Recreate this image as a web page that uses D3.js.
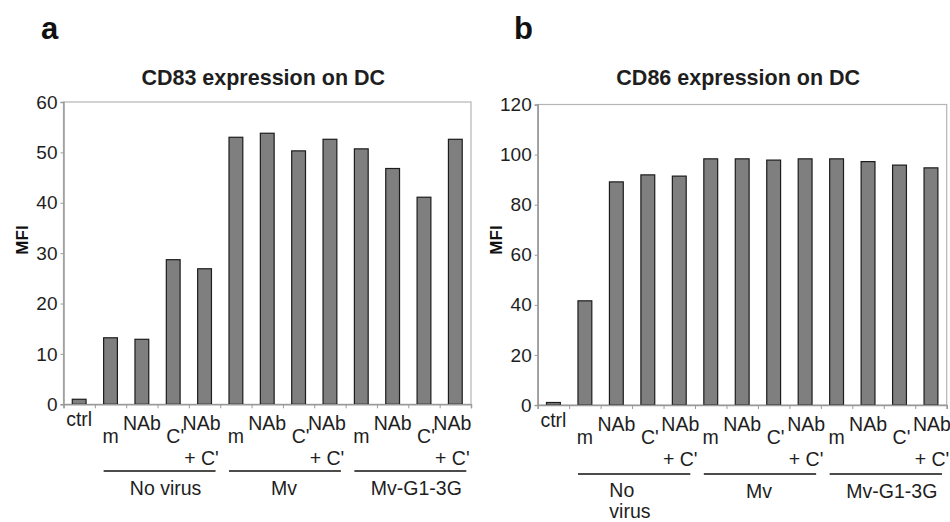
<!DOCTYPE html>
<html>
<head>
<meta charset="utf-8">
<script src="https://cdn.jsdelivr.net/npm/d3@7"></script>
<style>
  html, body { margin: 0; padding: 0; background: #fff; }
  svg { display: block; font-family: "Liberation Sans", Arial, sans-serif; }
</style>
</head>
<body>
<svg id="chart" width="950" height="522"></svg>
<script>
// ---- data ----
const categories = ["ctrl", "m", "NAb", "C'", "NAb|+ C'", "m", "NAb", "C'", "NAb|+ C'", "m", "NAb", "C'", "NAb|+ C'"];
const groupNames = ["No virus", "Mv", "Mv-G1-3G"];
const groupNamesB = ["No|virus", "Mv", "Mv-G1-3G"];
const groupStarts = [1, 5, 9];
const cd83Values = [1.0, 13.2, 12.9, 28.7, 26.9, 53.0, 53.8, 50.3, 52.6, 50.7, 46.8, 41.1, 52.6];
const cd86Values = [1.0, 41.6, 89.1, 91.9, 91.4, 98.3, 98.3, 97.8, 98.3, 98.3, 97.2, 95.8, 94.7];
const cd83Ticks = [0, 10, 20, 30, 40, 50, 60];
const cd86Ticks = [0, 20, 40, 60, 80, 100, 120];

const svg = d3.select("#chart");
const TXT = "#1e1e1e";
const AXIS = "#9a9a9a";
const FS = 19.5;

function drawPanel(o) {
  const g = svg.append("g");
  const n = categories.length;
  const x = d3.scaleBand().domain(d3.range(n)).range([o.left, o.right]).paddingInner(0).paddingOuter(0);
  const step = x.step();
  const cx = i => x(i) + step / 2;
  const bw = step * 0.44;
  const y = d3.scaleLinear().domain([0, d3.max(o.ticks)]).range([o.bottom, o.top]);

  // panel letter
  g.append("text").attr("x", o.letterX).attr("y", 39)
    .attr("font-size", 31).attr("font-weight", "bold").attr("fill", "#111").text(o.letter);

  // title
  g.append("text").attr("x", (o.left + o.right) / 2 - 4).attr("y", 85)
    .attr("text-anchor", "middle").attr("font-size", 21.5).attr("font-weight", "bold")
    .attr("fill", TXT).text(o.title);

  // frame
  g.append("rect").attr("x", o.left).attr("y", o.top)
    .attr("width", o.right - o.left).attr("height", o.bottom - o.top)
    .attr("fill", "none").attr("stroke", "#b4b4b4").attr("stroke-width", 1.2);

  // bars
  g.selectAll("rect.bar").data(o.values).join("rect").attr("class", "bar")
    .attr("x", (d, i) => cx(i) - bw / 2)
    .attr("y", d => y(d))
    .attr("width", bw)
    .attr("height", d => o.bottom - y(d))
    .attr("fill", "#7f7f7f").attr("stroke", "#1c1c1c").attr("stroke-width", 1.2);

  // y axis
  const ya = g.append("g").attr("transform", `translate(${o.left},0)`)
    .call(d3.axisLeft(y).tickValues(o.ticks).tickSize(3).tickPadding(3));
  ya.select(".domain").attr("stroke", AXIS).attr("stroke-width", 1.5);
  ya.selectAll(".tick line").attr("stroke", AXIS);
  ya.selectAll(".tick text").attr("font-size", 19).attr("fill", TXT)
    .attr("font-family", "Liberation Sans, Arial, sans-serif");

  // x axis with boundary ticks
  const xb = d3.scaleLinear().domain([0, n]).range([o.left, o.right]);
  const xa = g.append("g").attr("transform", `translate(0,${o.bottom})`)
    .call(d3.axisBottom(xb).tickValues(d3.range(n + 1)).tickSize(4).tickFormat(""));
  xa.select(".domain").attr("stroke", AXIS).attr("stroke-width", 1.5);
  xa.selectAll(".tick line").attr("stroke", AXIS);

  // category labels (staggered)
  categories.forEach((c, i) => {
    const lines = c.split("|");
    let base;
    if (i === 0) base = o.bottom + 21.5;
    else if (i % 2 === 0) base = o.bottom + 25.5;
    else base = o.bottom + 39;
    const dx = (c === "C'" ? 2 : 0) + (lines.length > 1 ? o.comboDx : 0);
    lines.forEach((t, k) => {
      g.append("text").attr("x", cx(i) + dx)
        .attr("y", k === 0 ? base : o.bottom + 61)
        .attr("text-anchor", "middle").attr("font-size", FS).attr("fill", TXT).text(t);
    });
  });

  // group lines and labels
  groupStarts.forEach((s, gi) => {
    const x1 = cx(s) - 0.22 * step, x2 = cx(s + 3) + 0.35 * step;
    g.append("line").attr("x1", x1).attr("x2", x2)
      .attr("y1", o.lineY).attr("y2", o.lineY)
      .attr("stroke", "#111").attr("stroke-width", 1.5);
    const lines = o.groups[gi].split("|");
    if (lines.length > 1) {
      lines.forEach((t, k) => {
        g.append("text").attr("x", cx(s + 1) - 7).attr("y", o.lineY + 23 + k * 20.5)
          .attr("font-size", FS).attr("fill", TXT).text(t);
      });
    } else {
      g.append("text").attr("x", (x1 + x2) / 2 + (gi === 1 ? -1 : 6)).attr("y", o.lineY + 24)
        .attr("text-anchor", "middle").attr("font-size", FS).attr("fill", TXT).text(lines[0]);
    }
  });

  // y label
  g.append("text").attr("transform", `translate(${o.mfiX},${o.mfiY}) rotate(-90)`)
    .attr("text-anchor", "middle").attr("font-size", 17).attr("font-weight", "bold")
    .attr("fill", "#111").text("MFI");
}

drawPanel({
  letter: "a", letterX: 41, title: "CD83 expression on DC",
  values: cd83Values, ticks: cd83Ticks, groups: groupNames, comboDx: -3,
  left: 63.5, right: 471, top: 102, bottom: 404.3, lineY: 471,
  mfiX: 28, mfiY: 240
});
drawPanel({
  letter: "b", letterX: 514, title: "CD86 expression on DC",
  values: cd86Values, ticks: cd86Ticks, groups: groupNamesB, comboDx: 1,
  left: 537.7, right: 946.7, top: 104.5, bottom: 405, lineY: 474,
  mfiX: 502, mfiY: 240
});
</script>
</body>
</html>
